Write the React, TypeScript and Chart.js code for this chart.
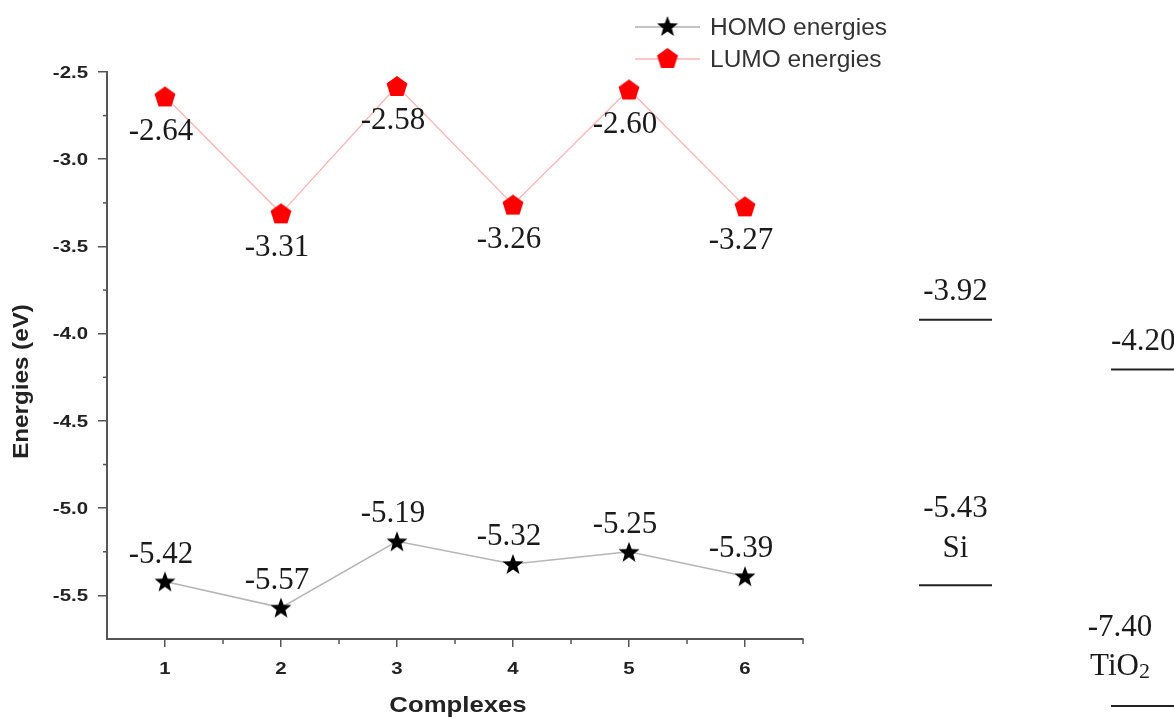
import React, { useEffect, useRef } from "react";
import { Chart, registerables } from "chart.js";

Chart.register(...registerables);

const complexes = [1, 2, 3, 4, 5, 6];
const homoEnergies = [-5.42, -5.57, -5.19, -5.32, -5.25, -5.39];
const lumoEnergies = [-2.64, -3.31, -2.58, -3.26, -2.6, -3.27];
const yTicks = [-5.5, -5.0, -4.5, -4.0, -3.5, -3.0, -2.5];
const xTickLabels = ["1", "2", "3", "4", "5", "6"];
const siLevels = [-3.92, -5.43];
const tio2Levels = [-4.2, -7.4];

const SERIF = "'Liberation Serif', 'Times New Roman', serif";
const SANS = "'Liberation Sans', Arial, sans-serif";

function makeStar(): HTMLCanvasElement {
  const c = document.createElement("canvas");
  c.width = 24;
  c.height = 24;
  const ctx = c.getContext("2d")!;
  const R = 11;
  const r = 4.6;
  ctx.beginPath();
  for (let i = 0; i < 10; i++) {
    const rad = i % 2 === 0 ? R : r;
    const a = -Math.PI / 2 + (i * Math.PI) / 5;
    const px = 12 + rad * Math.cos(a);
    const py = 13 + rad * Math.sin(a);
    if (i === 0) ctx.moveTo(px, py);
    else ctx.lineTo(px, py);
  }
  ctx.closePath();
  ctx.fillStyle = "#000";
  ctx.fill();
  return c;
}

function makePentagon(): HTMLCanvasElement {
  const c = document.createElement("canvas");
  c.width = 24;
  c.height = 24;
  const ctx = c.getContext("2d")!;
  const R = 11;
  ctx.beginPath();
  for (let i = 0; i < 5; i++) {
    const a = -Math.PI / 2 + (i * 2 * Math.PI) / 5;
    const px = 12 + R * Math.cos(a);
    const py = 13 + R * Math.sin(a);
    if (i === 0) ctx.moveTo(px, py);
    else ctx.lineTo(px, py);
  }
  ctx.closePath();
  ctx.fillStyle = "#ff0000";
  ctx.fill();
  return c;
}

function stretchText(
  ctx: CanvasRenderingContext2D,
  text: string,
  x: number,
  y: number,
  sx: number,
  align: CanvasTextAlign
) {
  ctx.save();
  ctx.translate(x, y);
  ctx.scale(sx, 1);
  ctx.textAlign = align;
  ctx.fillText(text, 0, 0);
  ctx.restore();
}

export default function App() {
  const ref = useRef<HTMLCanvasElement | null>(null);

  useEffect(() => {
    document.body.style.margin = "0";
    const canvas = ref.current;
    if (!canvas) return;
    const star = makeStar();
    const pent = makePentagon();

    const overlay = {
      id: "overlay",
      afterDraw(chart: any) {
        const ctx: CanvasRenderingContext2D = chart.ctx;
        const xs = chart.scales.x;
        const ys = chart.scales.y;
        const area = chart.chartArea;
        ctx.save();

        // minor ticks
        ctx.strokeStyle = "#555";
        ctx.lineWidth = 1.5;
        for (let i = 0; i < complexes.length; i++) {
          const v = complexes[i] + 0.5;
          const px = xs.getPixelForValue(v);
          ctx.beginPath();
          ctx.moveTo(px, area.bottom);
          ctx.lineTo(px, area.bottom + 5);
          ctx.stroke();
        }
        for (let i = 0; i < yTicks.length - 1; i++) {
          const v = yTicks[i] + 0.25;
          const py = ys.getPixelForValue(v);
          ctx.beginPath();
          ctx.moveTo(area.left, py);
          ctx.lineTo(area.left - 4, py);
          ctx.stroke();
        }

        // tick labels
        ctx.fillStyle = "#222";
        ctx.font = "bold 17px " + SANS;
        ctx.textBaseline = "middle";
        yTicks.forEach((v) => {
          stretchText(ctx, v.toFixed(1), area.left - 19, ys.getPixelForValue(v) + 1, 1.2, "right");
        });
        complexes.forEach((v, i) => {
          stretchText(ctx, xTickLabels[i], xs.getPixelForValue(v), area.bottom + 30, 1.2, "center");
        });

        // axis titles
        ctx.font = "bold 22px " + SANS;
        stretchText(ctx, "Complexes", (area.left + area.right) / 2 + 3, area.bottom + 67, 1.17, "center");
        ctx.save();
        ctx.translate(22, (area.top + area.bottom) / 2 + 26);
        ctx.rotate(-Math.PI / 2);
        ctx.scale(1.1, 1);
        ctx.textAlign = "center";
        ctx.fillText("Energies (eV)", 0, 0);
        ctx.restore();

        // value labels
        ctx.font = "31px " + SERIF;
        ctx.fillStyle = "#1a1a1a";
        ctx.textAlign = "center";
        ctx.textBaseline = "middle";
        complexes.forEach((c, i) => {
          const px = xs.getPixelForValue(c) - 4;
          ctx.fillText(lumoEnergies[i].toFixed(2), px, ys.getPixelForValue(lumoEnergies[i]) + 35);
          ctx.fillText(homoEnergies[i].toFixed(2), px, ys.getPixelForValue(homoEnergies[i]) - 27);
        });

        // legend
        const lx1 = 635;
        const lx2 = 700;
        const legendItems = [
          { text: "HOMO energies", color: "#b0b0b0", img: star, y: 27 },
          { text: "LUMO energies", color: "#ffb0b0", img: pent, y: 59 },
        ];
        ctx.font = "24.5px " + SANS;
        legendItems.forEach((it) => {
          ctx.strokeStyle = it.color;
          ctx.lineWidth = 1.5;
          ctx.beginPath();
          ctx.moveTo(lx1, it.y);
          ctx.lineTo(lx2, it.y);
          ctx.stroke();
          ctx.drawImage(it.img, (lx1 + lx2) / 2 - 12, it.y - 13);
          ctx.fillStyle = "#333";
          ctx.textAlign = "left";
          ctx.fillText(it.text, 710, it.y + 1);
        });

        // Si / TiO2 reference levels
        ctx.fillStyle = "#1a1a1a";
        ctx.strokeStyle = "#222";
        ctx.lineWidth = 2;
        ctx.font = "31px " + SERIF;
        const siX1 = 919;
        const siX2 = 992;
        const siC = (siX1 + siX2) / 2;
        const siTop = ys.getPixelForValue(siLevels[0]);
        const siBot = ys.getPixelForValue(siLevels[1]) + 2;
        ctx.beginPath();
        ctx.moveTo(siX1, siTop);
        ctx.lineTo(siX2, siTop);
        ctx.moveTo(siX1, siBot);
        ctx.lineTo(siX2, siBot);
        ctx.stroke();
        ctx.textAlign = "center";
        ctx.fillText(siLevels[0].toFixed(2), siC, siTop - 28);
        ctx.fillText(siLevels[1].toFixed(2), siC, siBot - 76);
        ctx.fillText("Si", siC, siBot - 36);

        const tX1 = 1111;
        const tX2 = 1180;
        const tTop = ys.getPixelForValue(tio2Levels[0]) + 1;
        const tBot = area.bottom + 67;
        ctx.beginPath();
        ctx.moveTo(tX1, tTop);
        ctx.lineTo(tX2, tTop);
        ctx.moveTo(tX1, tBot);
        ctx.lineTo(tX2, tBot);
        ctx.stroke();
        ctx.textAlign = "left";
        ctx.fillText(tio2Levels[0].toFixed(2), tX1, tTop - 28);
        ctx.textAlign = "center";
        ctx.fillText(tio2Levels[1].toFixed(2), 1120, tBot - 78);
        ctx.textAlign = "left";
        const tiW = ctx.measureText("TiO").width;
        ctx.font = "22px " + SERIF;
        const subW = ctx.measureText("2").width;
        const startX = 1120 - (tiW + subW) / 2;
        ctx.font = "31px " + SERIF;
        ctx.fillText("TiO", startX, tBot - 39);
        ctx.font = "22px " + SERIF;
        ctx.fillText("2", startX + tiW, tBot - 34);

        ctx.restore();
      },
    };

    const chart = new Chart(canvas, {
      type: "line",
      data: {
        datasets: [
          {
            label: "HOMO energies",
            data: complexes.map((c, i) => ({ x: c, y: homoEnergies[i] })),
            borderColor: "#b5b5b5",
            borderWidth: 1.5,
            pointStyle: star as any,
            pointRadius: 11,
            tension: 0,
          },
          {
            label: "LUMO energies",
            data: complexes.map((c, i) => ({ x: c, y: lumoEnergies[i] })),
            borderColor: "#ffb3b3",
            borderWidth: 1.3,
            pointStyle: pent as any,
            pointRadius: 11,
            tension: 0,
          },
        ],
      },
      options: {
        animation: false,
        responsive: false,
        maintainAspectRatio: false,
        events: [],
        layout: { padding: { left: 87, right: 371, top: 72, bottom: 59 } },
        plugins: {
          legend: { display: false },
          tooltip: { enabled: false },
          title: { display: false },
        },
        scales: {
          x: {
            type: "linear",
            min: 0.5,
            max: 6.5,
            afterBuildTicks: (s: any) => {
              s.ticks = complexes.map((v) => ({ value: v }));
            },
            afterFit: (s: any) => {
              s.height = 20;
            },
            ticks: { display: false },
            grid: {
              drawOnChartArea: false,
              drawTicks: true,
              tickLength: 8,
              color: "#555",
              lineWidth: 1.5,
            },
            border: { display: true, color: "#555", width: 2 },
          },
          y: {
            type: "linear",
            min: -5.75,
            max: -2.5,
            afterBuildTicks: (s: any) => {
              s.ticks = yTicks.map((v) => ({ value: v }));
            },
            afterFit: (s: any) => {
              s.width = 20;
            },
            ticks: { display: false },
            grid: {
              drawOnChartArea: false,
              drawTicks: true,
              tickLength: 9,
              color: "#555",
              lineWidth: 1.5,
            },
            border: { display: true, color: "#555", width: 2 },
          },
        },
      },
      plugins: [overlay],
    });

    return () => chart.destroy();
  }, []);

  return (
    <canvas
      ref={ref}
      width={1174}
      height={718}
      style={{ display: "block", width: 1174, height: 718 }}
    />
  );
}
